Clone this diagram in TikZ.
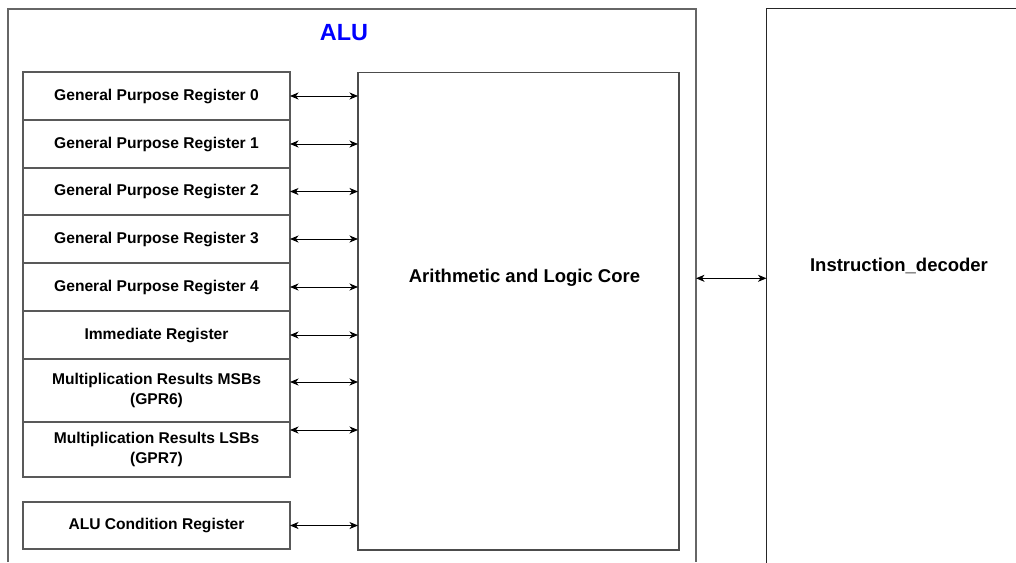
\documentclass[tikz,border=0pt]{standalone}
\usepackage{fontspec}
\setmainfont{Liberation Sans}
\usetikzlibrary{arrows.meta}
\begin{document}
\begin{tikzpicture}[x=1pt,y=-1pt,
  regbox/.style={draw=black!65, line width=1.2pt, fill=white, minimum width=267pt, inner sep=0pt, outer sep=0pt, anchor=north west, align=center, font=\fontsize{15.6}{20}\selectfont\bfseries},
  biarrow/.style={line width=0.9pt, {Stealth[length=8.5pt,width=7pt,inset=2.5pt]}-{Stealth[length=8.5pt,width=7pt,inset=2.5pt]}},
  frame/.style={line width=1.2pt},
  bigtext/.style={font=\fontsize{18.5}{22}\selectfont\bfseries, inner sep=0pt, anchor=base}
]
\useasboundingbox (0,0) rectangle (1016,562);

% ALU container (open at the bottom)
\node[minimum width=688pt, minimum height=553pt, inner sep=0pt, outer sep=0pt, anchor=north west] (alu) at (8,9) {};
\draw[frame, draw=black!60] (alu.south west) -- (alu.north west) -- (alu.north east) -- (alu.south east);
\node[font=\fontsize{23.4}{26}\selectfont\bfseries, text=blue, inner sep=0pt, anchor=base] (alutitle) at (344,40) {ALU};

% Instruction decoder (open at bottom and right)
\node[minimum width=260pt, minimum height=554pt, inner sep=0pt, outer sep=0pt, anchor=north west] (dec) at (766.5,8.5) {};
\draw[frame, draw=black!85] (dec.south west) -- (dec.north west) -- (dec.north east);
\node[bigtext] (dectxt) at (899,271.7) {Instruction\_decoder};

% Arithmetic and logic core
\node[draw=black!70, line width=1.2pt, minimum width=321pt, minimum height=477.5pt, inner sep=0pt, outer sep=0pt, anchor=north west] (core) at (358,72.5) {};
\node[bigtext] (coretxt) at (524.5,282.3) {Arithmetic and Logic Core};

% Registers
\node[regbox, minimum height=48pt] (r0) at (23,72) {General Purpose Register 0};
\node[regbox, minimum height=48pt] (r1) at (23,120) {General Purpose Register 1};
\node[regbox, minimum height=47pt] (r2) at (23,168) {General Purpose Register 2};
\node[regbox, minimum height=48pt] (r3) at (23,215) {General Purpose Register 3};
\node[regbox, minimum height=48pt] (r4) at (23,263) {General Purpose Register 4};
\node[regbox, minimum height=48pt] (imm) at (23,311) {Immediate Register};
\node[regbox, minimum height=63pt] (msb) at (23,359) {Multiplication Results MSBs\\(GPR6)};
\node[regbox, minimum height=55pt] (lsb) at (23,422) {Multiplication Results LSBs\\(GPR7)};
\node[regbox, minimum height=47pt] (cond) at (23,502) {ALU Condition Register};

% Register connectors
\foreach \r in {r0,r1,r2,r3,r4,imm,cond}
  \draw[biarrow] (\r.east) -- (core.west |- \r.east);
\coordinate (msbport) at ([yshift=8.5pt]msb.east);
\coordinate (lsbport) at ([yshift=19.5pt]lsb.east);
\draw[biarrow] (msbport) -- (core.west |- msbport);
\draw[biarrow] (lsbport) -- (core.west |- lsbport);

% ALU <-> decoder
\coordinate (busy) at (0,278.3);
\draw[biarrow] (alu.east |- busy) -- (dec.west |- busy);
\end{tikzpicture}
\end{document}
